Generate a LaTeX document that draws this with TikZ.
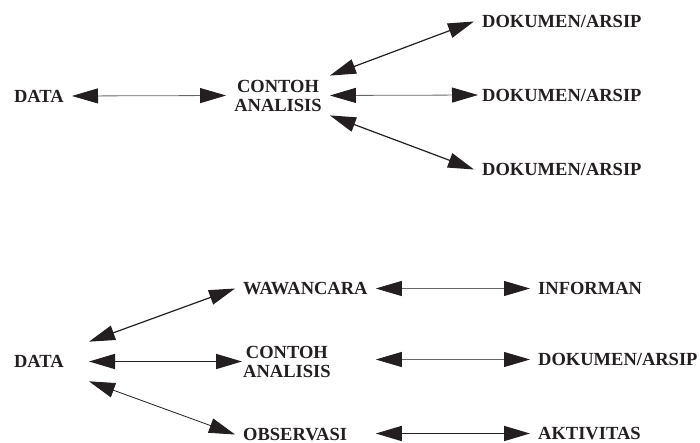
\documentclass[tikz,border=0pt]{standalone}
\usepackage{fontspec}
\setmainfont{Liberation Serif}
\usepackage{tikz}
\usetikzlibrary{arrows.meta,calc,positioning}
\definecolor{tinta}{HTML}{231F20}
\tikzset{lbl/.style={font=\bfseries\fontsize{18.5}{19}\selectfont, text=tinta, align=center, inner xsep=8pt, inner ysep=0pt}}
\tikzset{dua/.style={>={Triangle[length=26pt, width=15pt, color=tinta]}, <->}}
\tikzset{tipis/.style={dua, line width=0.8pt, draw=black!60}}
\tikzset{sedang/.style={dua, line width=1.2pt, draw=tinta}}
\tikzset{tebal/.style={dua, line width=1.7pt, draw=tinta}}

\begin{document}
\begin{tikzpicture}[x=1pt, y=-1pt]
    \useasboundingbox (0,0) rectangle (700,443);
    \node[lbl, anchor=east] (data1) at (72,96) {DATA};
    \node[lbl, inner ysep=4pt] (ca1) at (278,95.5) {CONTOH\\ANALISIS};
    \node[lbl, anchor=west] (dok1) at (474,21.5) {DOKUMEN/ARSIP};
    \node[lbl, anchor=west, inner xsep=4pt] (dok2) at (478,95) {DOKUMEN/ARSIP};
    \node[lbl, anchor=west] (dok3) at (474,169.5) {DOKUMEN/ARSIP};
    \draw[tipis] (data1.east) -- (ca1.west);
    \draw[sedang] (ca1.north east) -- (dok1.west);
    \draw[tipis] (ca1.east) -- (dok2.west);
    \draw[sedang] (ca1.south east) -- (dok3.west);

    \node[lbl, anchor=east, inner xsep=25pt, inner ysep=13.5pt] (data2) at (89,361.5) {DATA};
    \node[lbl, anchor=west] (waw) at (235,288.5) {WAWANCARA};
    \node[lbl, anchor=west, inner xsep=1pt] (ca2) at (242,361.5) {CONTOH\\ANALISIS};
    \node[lbl, anchor=west] (obs) at (235,434.5) {OBSERVASI};
    \node[lbl, anchor=west] (inf) at (530,288.5) {INFORMAN};
    \node[lbl, anchor=west] (dok4) at (530,359.5) {DOKUMEN/ARSIP};
    \node[lbl, anchor=west] (akt) at (530,433.5) {AKTIVITAS};
    \draw[sedang] (data2.north east) -- (waw.west);
    \draw[tebal] (data2.east) -- (ca2.west);
    \draw[tipis, draw=tinta] (data2.south east) -- (obs.west);
    \draw[tipis] (waw.east) -- (inf.west);
    \draw[tipis] (waw.east |- dok4.west) -- (dok4.west);
    \draw[tebal] (waw.east |- akt.west) -- (akt.west);
\end{tikzpicture}
\end{document}
